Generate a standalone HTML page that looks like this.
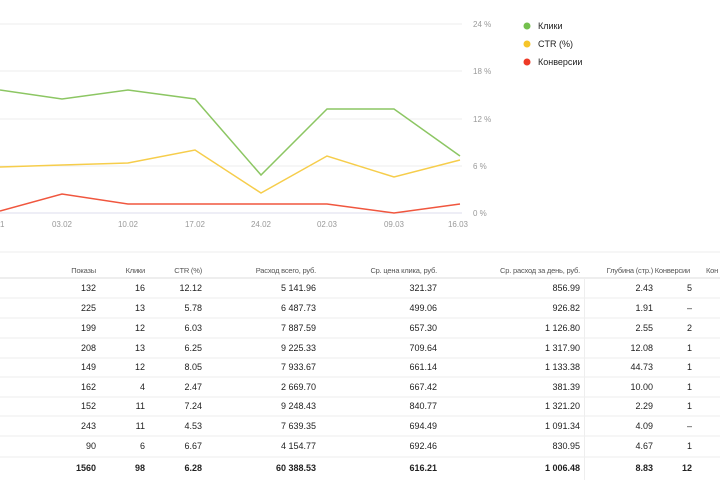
<!DOCTYPE html>
<html><head><meta charset="utf-8"><style>
body{margin:0;width:720px;height:480px;background:#fff;overflow:hidden;font-family:"Liberation Sans",sans-serif;position:relative}
svg{position:absolute;left:0;top:0}
.t{position:absolute;font-size:9px;color:#222;white-space:nowrap}
.h{color:#555;font-size:7.5px;letter-spacing:-0.2px}
.b{font-weight:bold}
</style></head><body>
<svg width="720" height="480">
<g stroke="#eee" stroke-width="1">
<line x1="0" y1="24" x2="462" y2="24"/><line x1="0" y1="71" x2="462" y2="71"/>
<line x1="0" y1="119" x2="462" y2="119"/><line x1="0" y1="166" x2="462" y2="166"/>
<line x1="0" y1="213" x2="462" y2="213" stroke="#dde"/>
</g>
<g font-size="8" fill="#999" font-family="Liberation Sans">
<text x="473" y="27">24 %</text><text x="473" y="74">18 %</text><text x="473" y="122">12 %</text><text x="473" y="169">6 %</text><text x="473" y="216">0 %</text>
<g text-anchor="middle"><text x="0" y="227">01</text><text x="62" y="227">03.02</text><text x="128" y="227">10.02</text><text x="195" y="227">17.02</text><text x="261" y="227">24.02</text><text x="327" y="227">02.03</text><text x="394" y="227">09.03</text><text x="458" y="227">16.03</text></g>
</g>
<g fill="none" stroke-width="1.5">
<polyline stroke="#8cc663" points="0,90 62,99 128,90 195,99 261,175 327,109 394,109 460,156"/>
<polyline stroke="#f6cd4b" points="0,167 62,165 128,163 195,150 261,193 327,156 394,177 460,160"/>
<polyline stroke="#f0563e" points="0,211 62,194 128,204 195,204 261,204 327,204 394,213 460,204"/>
</g>
<circle cx="527" cy="26" r="3.5" fill="#74c04d"/><circle cx="527" cy="44" r="3.5" fill="#f6c529"/><circle cx="527" cy="62" r="3.5" fill="#ee3a26"/>
<g font-size="9" fill="#222" font-family="Liberation Sans"><text x="538" y="29">Клики</text><text x="538" y="47">CTR (%)</text><text x="538" y="65">Конверсии</text></g>
<g stroke="#eee"><line x1="0" y1="252" x2="720" y2="252"/><line x1="0" y1="278" x2="720" y2="278" stroke="#ddd"/>
<line x1="0" y1="298" x2="720" y2="298"/><line x1="0" y1="318" x2="720" y2="318"/><line x1="0" y1="338" x2="720" y2="338"/><line x1="0" y1="358" x2="720" y2="358"/><line x1="0" y1="377" x2="720" y2="377"/><line x1="0" y1="397" x2="720" y2="397"/><line x1="0" y1="416" x2="720" y2="416"/><line x1="0" y1="436" x2="720" y2="436"/>
<line x1="0" y1="457" x2="720" y2="457"/>
<line x1="584.5" y1="278" x2="584.5" y2="480"/></g>
</svg>
<div id="tb"></div>
<script>
var cols=[96,145,202,316,437,580,653,690];
var hd=["Показы","Клики","CTR (%)","Расход всего, руб.","Ср. цена клика, руб.","Ср. расход за день, руб.","Глубина (стр.)","Конверсии"];
var rows=[["132","16","12.12","5 141.96","321.37","856.99","2.43","5"],["225","13","5.78","6 487.73","499.06","926.82","1.91","–"],["199","12","6.03","7 887.59","657.30","1 126.80","2.55","2"],["208","13","6.25","9 225.33","709.64","1 317.90","12.08","1"],["149","12","8.05","7 933.67","661.14","1 133.38","44.73","1"],["162","4","2.47","2 669.70","667.42","381.39","10.00","1"],["152","11","7.24","9 248.43","840.77","1 321.20","2.29","1"],["243","11","4.53","7 639.35","694.49","1 091.34","4.09","–"],["90","6","6.67","4 154.77","692.46","830.95","4.67","1"],["1560","98","6.28","60 388.53","616.21","1 006.48","8.83","12"]];
var ys=[283,303,323,343,362,382,401,421,441,463];
var h='';
hd.forEach(function(t,i){h+='<div class="t h" style="right:'+(720-cols[i])+'px;top:266px">'+t+'</div>';});
h+='<div class="t h" style="left:706px;top:266px">Кон</div>';
rows.forEach(function(r,j){var y=ys[j];r.forEach(function(t,i){h+='<div class="t'+(j==9?' b':'')+'" style="right:'+(720-cols[i]+(i==7?-2:0))+'px;top:'+y+'px">'+t+'</div>';});});
document.getElementById('tb').innerHTML=h;
</script>
</body></html>
